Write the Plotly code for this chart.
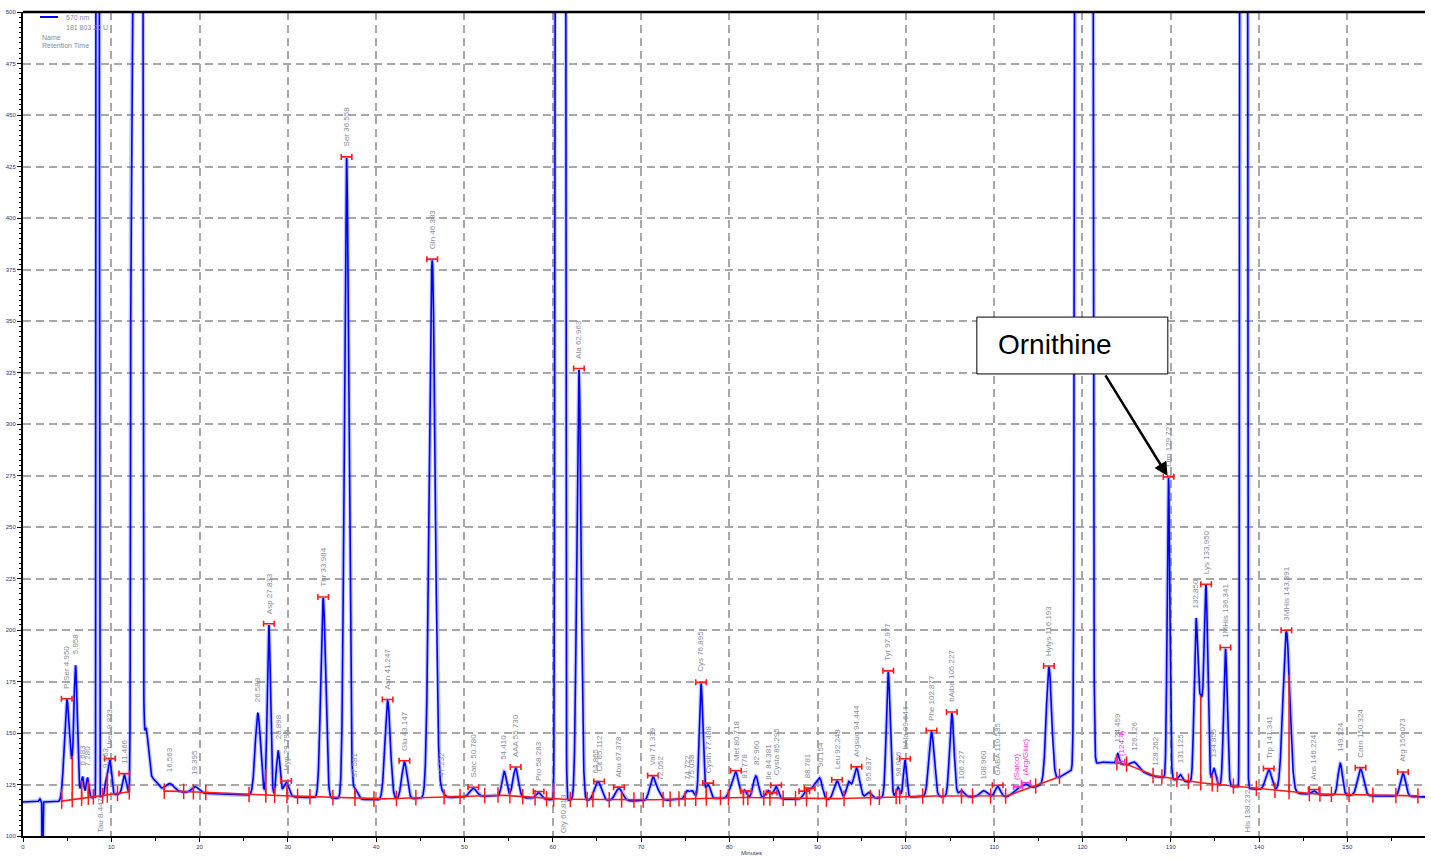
import numpy as np
import plotly.graph_objects as go

# ---------------- data ----------------
# baseline of the detector signal (minutes, signal units)
base_t = [0, 4.3, 12.0, 17.0, 24.0, 40.0, 54.0, 60.0, 70.0, 80.0, 91.0, 100.8, 111.4,
          114.8, 117.4, 118.4, 122.2, 125.0, 128.0, 132.2, 139.7, 146.1, 158.8]
base_v = [116.5, 116.5, 121.0, 121.5, 120.0, 117.5, 119.5, 117.5, 117.0, 118.4, 117.5, 119.0, 119.0,
          124.0, 128.5, 131.0, 136.0, 134.5, 129.0, 126.0, 122.7, 120.0, 119.0]

# peak table: retention time, height above baseline, width (sigma, min)
peak_t = [1.9, 2.2, 4.95, 5.6, 5.96, 6.75, 7.3, 8.45, 9.45, 9.85, 11.47, 12.9, 13.9, 14.8, 16.6, 19.5,
          26.6, 27.85, 28.9, 29.8, 34.0, 36.65, 37.6, 41.3, 43.2, 46.35, 47.4, 51.0, 54.5, 55.8, 58.4,
          60.85, 62.97, 64.85, 65.25, 67.5, 71.35, 72.1, 75.2, 75.8, 76.8, 77.6, 80.2, 80.75, 81.7,
          83.0, 84.4, 85.3, 88.8, 89.6, 90.25, 92.2, 93.5, 94.4, 95.8, 98.0, 99.1, 99.9, 102.9, 105.2,
          106.3, 108.8, 110.4, 112.6, 113.5, 116.2, 120.15, 124.0, 125.9, 129.75, 131.1, 132.85, 133.4,
          134.0, 134.9, 136.2, 138.25, 141.1, 143.1, 146.2, 149.2, 151.5, 156.3]
peak_h = [1.5, -60, 44, 12, 56, 10, 10, 1e6, 8, 17, 9, 1e6, 30, 6, 4, 3,
          40, 83, 22, 7, 97, 311, 5, 48, 18, 261, 3, 4, 12, 14, 3,
          1e6, 209, 4, 7, 6, 11.5, 3, 4, 4, 56, 7, 4, 12, 4,
          11, 4, 6, 5, 6, 10, 9, 8, 15, 3, 61, 5, 18, 31.6, 40.6,
          3, 3, 5, 2, 3, 55.5, 1e6, 5, 3, 146, 3, 72, 40,
          91, 8, 66.7, 1e6, 10, 78, 2, 15.5, 13, 11.3]
peak_w = [0.1, 0.03, 0.28, 0.5, 0.18, 0.15, 0.15, 0.05, 0.15, 0.18, 0.2, 0.171, 0.3, 0.5, 0.5, 0.4,
          0.3, 0.18, 0.2, 0.3, 0.27, 0.25, 0.3, 0.3, 0.3, 0.33, 0.3, 0.4, 0.25, 0.3, 0.3,
          0.155, 0.24, 0.3, 0.35, 0.4, 0.35, 0.25, 0.25, 0.25, 0.2, 0.25, 0.3, 0.3, 0.25,
          0.3, 0.3, 0.25, 0.35, 0.3, 0.3, 0.35, 0.25, 0.35, 0.3, 0.22, 0.2, 0.18, 0.3, 0.25,
          0.3, 0.4, 0.3, 0.4, 0.4, 0.3, 0.264, 0.15, 0.4, 0.15, 0.2, 0.2, 0.3,
          0.2, 0.2, 0.2, 0.113, 0.35, 0.38, 0.3, 0.25, 0.35, 0.3]

# peak labels: retention time, text
label_t = [4.95, 5.96, 6.75, 7.3, 9.4, 9.85, 11.47, 16.6, 19.5, 26.6, 27.85, 28.9, 29.8, 34.0, 36.65,
           37.6, 41.3, 43.2, 46.35, 47.4, 51.0, 54.5, 55.8, 58.4, 62.97, 64.85, 65.25, 67.5, 71.35,
           72.1, 75.2, 75.8, 76.8, 77.6, 80.75, 81.7, 83.0, 84.4, 85.3, 88.8, 90.25, 92.2, 94.4, 95.8,
           98.0, 99.1, 99.9, 102.9, 105.2, 106.3, 108.8, 110.4, 116.2, 124.0, 125.9, 128.3, 129.75,
           131.1, 132.85, 134.0, 134.9, 136.2, 141.1, 143.1, 146.2, 149.2, 151.5, 156.3]
label_txt = ["P-Ser 4.950", "5.958", "6.683", "7.280", "9.353", "Urea 9.833", "11.466", "16.563",
             "19.395", "26.588", "Asp 27.833", "28.898", "Hyp 29.796", "Thr 33.984", "Ser 36.558",
             "37.581", "Asn 41.247", "Glu 43.147", "Gln 46.383", "47.232", "Sarc 50.780", "54.410",
             "AAA 55.730", "Pro 58.283", "Ala 62.963", "64.865", "Cit 65.112", "Abu 67.378",
             "Val 71.339", "72.052", "74.722", "75.038", "Cys 76.895", "Cysth 77.488", "Met 80.718",
             "81.778", "82.960", "Ile 84.381", "Cysta 85.295", "88.781", "90.154", "Leu 92.248",
             "Argsuc 94.444", "95.837", "Tyr 97.977", "98.956", "bAla 99.644", "Phe 102.877",
             "bAiba 105.227", "106.227", "108.960", "GABA 110.535", "Hylys 116.193", "124.459",
             "126.126", "128.262", "Orn 129.727", "131.125", "132.850", "Lys 133.950", "134.855",
             "1MHis 136.341", "Trp 141.341", "3MHis 143.391", "Ans 146.224", "149.124",
             "Carn 150.324", "Arg 156.073"]
# labels written under the off-scale peaks
low_t = [8.45, 60.85, 138.25]
low_txt = ["Tau 8.447", "Gly 60.813", "His 138.232"]
# magenta (reference) labels
pink_t = [112.6, 113.5, 124.4]
pink_txt = ["(Sarco)", "(Arg/Gluc)", "(124.4)"]

# apex markers (red) and integration boundaries
apex_t = [4.95, 9.85, 11.47, 27.85, 29.8, 34.0, 36.65, 41.3, 43.2, 46.35, 51.0, 55.8, 58.4, 62.97,
          65.25, 67.5, 71.35, 76.8, 77.6, 80.75, 81.9, 84.8, 85.3, 88.5, 89.1, 92.2, 94.4, 98.0, 99.9,
          102.9, 105.2, 110.4, 116.2, 129.75, 134.0, 136.2, 141.1, 143.1, 146.2, 151.5, 156.3]
bound_t = [4.38, 5.58, 6.64, 7.4, 7.97, 9.02, 9.55, 10.7, 12.04, 16.0, 18.2, 19.3, 20.7,
           25.6, 27.5, 28.5, 29.9, 31.1, 32.5, 35.1, 37.6, 39.75, 42.3, 44.5, 47.7, 49.5, 52.3, 53.8,
           55.15, 56.6, 58.0, 59.3, 60.1, 62.0, 63.9, 64.55, 66.4, 67.8, 69.2, 70.25, 72.5, 73.3, 74.3,
           75.0, 76.2, 77.4, 79.0, 79.9, 81.6, 82.1, 83.9, 84.6, 86.1, 87.5, 88.75, 91.0, 93.0, 96.0,
           97.0, 98.9, 99.3, 101.9, 104.2, 106.3, 107.55, 109.6, 111.3, 114.7, 117.4, 123.9, 125.0,
           128.0, 129.0, 130.7, 132.0, 133.4, 134.7, 135.3, 137.1, 139.7, 141.8, 143.4, 145.7,
           146.9, 148.2, 150.2, 152.9, 155.5, 158.0]
# spans of the red integration baseline
red_spans = [(4.38, 12.04), (16.0, 117.4), (123.9, 158.0)]

# ---------------- build the trace ----------------
t = np.round(np.arange(0, 158.8 + 0.005, 0.01), 3)


def baseline(x):
    return np.interp(x, base_t, base_v)


def signal(x):
    x = np.asarray(x, dtype=float)
    s = baseline(x)
    for c, h, w in zip(peak_t, peak_h, peak_w):
        s = s + h * np.exp(-0.5 * ((x - c) / w) ** 2)
    return s


sig = np.minimum(signal(t), 700)

fig = go.Figure()
fig.add_trace(go.Scatter(x=t, y=sig, mode="lines", line=dict(color="rgba(70,90,255,0.35)", width=4),
                         hoverinfo="skip", showlegend=False))
fig.add_trace(go.Scatter(x=t, y=sig, mode="lines", line=dict(color="#0000ff", width=1.6),
                         showlegend=False))

# red baseline
rx, ry = [], []
for a, b in red_spans:
    xs = np.round(np.arange(a, b + 0.001, 0.25), 3)
    rx += list(xs) + [None]
    ry += list(baseline(xs) + 0.4) + [None]
fig.add_trace(go.Scatter(x=rx, y=ry, mode="lines", line=dict(color="#ff1a1a", width=1.6),
                         hoverinfo="skip", showlegend=False))

# drop lines
dx, dy = [], []
for b in bound_t:
    s = float(min(signal(b), 500))
    bl = float(baseline(b))
    if s - bl > 2:
        dx += [b, b, None]
        dy += [bl, s, None]
fig.add_trace(go.Scatter(x=dx, y=dy, mode="lines", line=dict(color="#ff1a1a", width=1.6),
                         hoverinfo="skip", showlegend=False))
# boundary ticks
fig.add_trace(go.Scatter(x=bound_t, y=list(baseline(bound_t) + 0.4), mode="markers",
                         marker=dict(symbol="line-ns", size=11, line=dict(width=1.5, color="#ff1a1a")),
                         hoverinfo="skip", showlegend=False))
# apex markers
fig.add_trace(go.Scatter(x=apex_t, y=list(signal(apex_t) + 0.6), mode="markers",
                         marker=dict(size=0.1, color="#ff1a1a"),
                         error_x=dict(type="constant", value=0.6, width=3, thickness=1.6, color="#ff1a1a"),
                         hoverinfo="skip", showlegend=False))
pink_apex = [112.7, 113.6, 124.3]
fig.add_trace(go.Scatter(x=pink_apex, y=list(signal(pink_apex) + 0.6), mode="markers",
                         marker=dict(size=0.1, color="#ff33cc"),
                         error_x=dict(type="constant", value=0.5, width=3, thickness=1.6, color="#ff33cc"),
                         hoverinfo="skip", showlegend=False))

ann = []
lab_font = dict(family="Liberation Sans, Arial", size=8, color="#8a8d99")
for lt, tx in zip(label_t, label_txt):
    v = float(min(signal(lt), 500)) + 4.5
    ann.append(dict(x=lt, y=v, text=tx, textangle=-90, showarrow=False, xanchor="center",
                    yanchor="bottom", font=lab_font))
for lt, tx in zip(low_t, low_txt):
    ann.append(dict(x=lt + 0.4, y=100.5, text=tx, textangle=-90, showarrow=False, xanchor="center",
                    yanchor="bottom", font=lab_font))
for lt, tx in zip(pink_t, pink_txt):
    v = float(signal(lt)) + 3
    ann.append(dict(x=lt, y=v, text=tx, textangle=-90, showarrow=False, xanchor="center",
                    yanchor="bottom", font=dict(family="Liberation Sans, Arial", size=8, color="#ff33cc")))

# Ornithine callout
orn_t, orn_v = 129.75, float(signal(129.75)) + 1
ann.append(dict(x=orn_t - 0.1, y=orn_v, ax=122.5, ay=324.3, axref="x", ayref="y", text="",
                showarrow=True, arrowhead=2, arrowsize=1.1, arrowwidth=2.5, arrowcolor="black"))
ann.append(dict(x=110.2, y=338.5, text="Ornithine", showarrow=False, xanchor="left", yanchor="middle",
                font=dict(family="Liberation Sans, Arial", size=28, color="black")))

# legend block
small = dict(family="Liberation Sans, Arial", size=7, color="#8a8d99")
ann += [
    dict(xref="paper", yref="paper", x=(64 - 23) / 1402, y=1 - (17 - 12) / 824, text="570 nm",
         showarrow=False, xanchor="left", yanchor="middle", font=small),
    dict(xref="paper", yref="paper", x=(64 - 23) / 1402, y=1 - (27 - 12) / 824, text="181 803 20 U",
         showarrow=False, xanchor="left", yanchor="middle", font=small),
    dict(xref="paper", yref="paper", x=(40 - 23) / 1402, y=1 - (37 - 12) / 824, text="Name",
         showarrow=False, xanchor="left", yanchor="middle", font=small),
    dict(xref="paper", yref="paper", x=(40 - 23) / 1402, y=1 - (46 - 12) / 824, text="Retention Time",
         showarrow=False, xanchor="left", yanchor="middle", font=small),
    dict(xref="paper", yref="paper", x=(752 - 23) / 1402, y=-(853 - 836) / 824, text="Minutes",
         showarrow=False, xanchor="center", yanchor="middle",
         font=dict(family="Liberation Sans, Arial", size=6, color="#333366")),
]

shapes = [
    dict(type="rect", xref="x", yref="y", x0=108.04, x1=129.67, y0=324.3, y1=351.9,
         line=dict(color="black", width=1), fillcolor="white", layer="above"),
    dict(type="line", xref="paper", yref="paper", x0=0, x1=1, y0=1, y1=1, line=dict(color="black", width=2.5)),
    dict(type="line", xref="paper", yref="paper", x0=(40 - 23) / 1402, x1=(58 - 23) / 1402,
         y0=1 - (17 - 12) / 824, y1=1 - (17 - 12) / 824, line=dict(color="#0000ff", width=2)),
]

tick_font = dict(family="Liberation Sans, Arial", size=6, color="#333366")
fig.update_layout(
    width=1431, height=859, autosize=False,
    margin=dict(l=23, r=6, t=12, b=23, autoexpand=False),
    paper_bgcolor="white", plot_bgcolor="white",
    annotations=ann, shapes=shapes, showlegend=False,
    xaxis=dict(range=[0, 158.8], tickvals=list(range(0, 160, 10)), ticks="outside", ticklen=4,
               tickcolor="black", showline=True, linecolor="black", linewidth=2, zeroline=False,
               showgrid=True, gridcolor="#a8a8a8", griddash="8px,5px", gridwidth=1.5, automargin=False,
               tickfont=tick_font, minor=dict(dtick=5, ticklen=3, tickcolor="black", showgrid=False)),
    yaxis=dict(range=[100, 500], tickvals=list(range(100, 501, 25)), ticks="outside", ticklen=4,
               tickcolor="black", showline=True, linecolor="black", linewidth=2, zeroline=False,
               showgrid=True, gridcolor="#a8a8a8", griddash="8px,5px", gridwidth=1.5, automargin=False,
               tickfont=tick_font, minor=dict(dtick=2.5, ticklen=2.5, tickcolor="black", showgrid=False)),
)
fig.write_html("out.html", config={"displayModeBar": False},
               post_script="document.body.style.margin='0';document.body.style.overflow='hidden';")
